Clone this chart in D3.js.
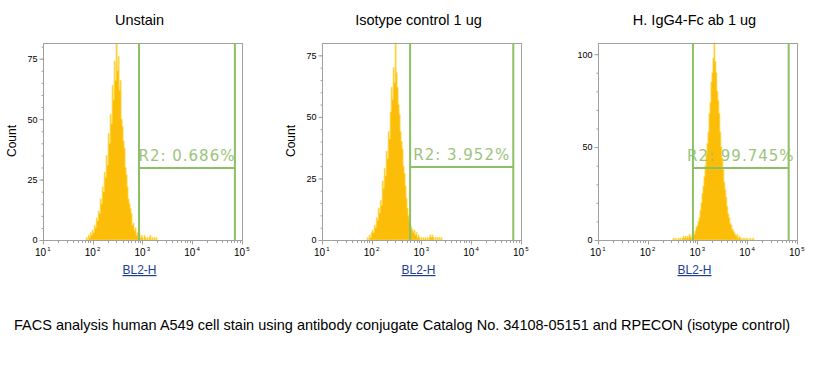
<!DOCTYPE html>
<html>
<head>
<meta charset="utf-8">
<script src="https://d3js.org/d3.v7.min.js"></script>
<style>
body { margin: 0; background: #fff; }
.frame { fill: none; stroke: #a0a0a0; stroke-width: 1; }
.tick text { font-family: "Liberation Sans", Arial, sans-serif; fill: #000; }
.gate { stroke: #8cc063; stroke-width: 2; fill: none; }
.gatelabel { font-family: "DejaVu Sans", Verdana, sans-serif; font-size: 15px; fill: #9cc47c; letter-spacing: 1px; }
.title { font-family: "Liberation Sans", Arial, sans-serif; font-size: 14.5px; }
.ylab { font-family: "Liberation Sans", Arial, sans-serif; font-size: 12px; }
.xlab { font-family: "Liberation Sans", Arial, sans-serif; font-size: 12px; fill: #1c3d96; text-decoration: underline; }
.caption { font-family: "Liberation Sans", Arial, sans-serif; font-size: 14.5px; }
</style>
</head>
<body>
<script>

// panel titles and gate results
var titles = ["Unstain", "Isotype control 1 ug", "H. IgG4-Fc ab 1 ug"];
var gateText = ["R2: 0.686%", "R2: 3.952%", "R2: 99.745%"];
var gateLo = [850, 590, 810];
var gateHi = [72000, 70000, 68000];
var gateCount = [29.8, 29.6, 38.7];
var yMax = [81.5, 80, 106];
var yTicks = [[0, 25, 50, 75], [0, 25, 50, 75], [0, 50, 100]];
var yMinor = [5, 5, 10];
var showCount = [true, true, false];
var xTicks = [10, 100, 1000, 10000, 100000];

// histogram bins: first log10 value, step in log10, then counts per bin
var histStart = [1.86, 1.90, 2.50];
var histStep = 0.02;
var counts1 = [0, 1, 0, 2, 1, 3, 2, 4, 3, 6, 5, 9, 8, 12, 11, 17, 15, 22, 20, 28,
  26, 35, 31, 44, 40, 52, 48, 64, 58, 74, 66, 81, 70, 76, 62, 66, 50, 47, 41, 38,
  30, 27, 22, 17, 15, 13, 11, 6, 7, 4, 5, 2, 3, 1, 3, 1, 2, 1, 0, 2,
  1, 0, 1, 0, 1, 2, 0, 1, 0, 1, 0, 1, 0];
var counts2 = [0, 1, 0, 2, 1, 3, 4, 3, 6, 5, 9, 8, 13, 11, 16, 14, 24, 21, 29, 26,
  36, 33, 44, 41, 52, 62, 57, 70, 64, 80, 68, 62, 55, 51, 44, 40, 37, 30, 27, 22,
  17, 13, 10, 8, 6, 5, 4, 3, 4, 2, 3, 1, 2, 1, 0, 1, 0, 1, 0, 1,
  0, 1, 0, 1, 2, 1, 2, 1, 0, 1, 0, 1, 0, 1, 0, 1, 0];
var counts3 = [0, 1, 0, 1, 0, 0, 1, 0, 1, 0, 1, 2, 1, 2, 1, 2, 1, 3, 2, 1,
  3, 4, 3, 5, 7, 8, 10, 12, 16, 20, 25, 29, 34, 40, 46, 52, 58, 68, 74, 85,
  90, 98, 106, 96, 90, 80, 75, 68, 58, 50, 44, 38, 31, 27, 23, 18, 14, 12, 9, 8,
  6, 5, 4, 3, 2, 3, 1, 2, 1, 1, 0, 1, 0, 1, 0, 1, 0, 0, 1, 0, 0, 1, 0];
var allCounts = [counts1, counts2, counts3];

var caption = "FACS analysis human A549 cell stain using antibody conjugate Catalog No. 34108-05151 and RPECON (isotype control)";

var width = 832, height = 369;
var panelX = [43, 322, 598], plotTop = 43, pw = 199, ph = 197;

var svg = d3.select("body").append("svg")
  .attr("width", width)
  .attr("height", height);

titles.forEach(function(t, p) {
  var g = svg.append("g").attr("transform", "translate(" + panelX[p] + "," + plotTop + ")");

  var x = d3.scaleLog().domain([10, 100000]).range([0, pw]);
  var y = d3.scaleLinear().domain([0, yMax[p]]).range([ph, 0]);

  // histogram
  var bins = allCounts[p].map(function(c, i) {
    return { v: Math.pow(10, histStart[p] + i * histStep), c: c };
  });
  var area = d3.area()
    .curve(d3.curveStep)
    .x(function(d) { return x(d.v); })
    .y0(ph)
    .y1(function(d) { return y(d.c); });
  g.append("path").datum(bins)
    .attr("d", area)
    .attr("fill", "#fbbd08")
    .attr("stroke", "#ffd94d")
    .attr("stroke-width", 0.8);

  // frame
  g.append("rect").attr("class", "frame")
    .attr("x", 0.5).attr("y", 0.5).attr("width", pw).attr("height", ph);

  // x axis: log minor ticks + superscript labels
  var minor = [];
  for (var e = 1; e < 5; e++) for (var m = 2; m < 10; m++) minor.push(m * Math.pow(10, e));
  var xa = g.append("g").attr("transform", "translate(0," + (ph + 0.5) + ")");
  xa.selectAll("line.mi").data(minor).enter().append("line")
    .attr("x1", function(d) { return Math.round(x(d)) + 0.5; })
    .attr("x2", function(d) { return Math.round(x(d)) + 0.5; })
    .attr("y1", 0).attr("y2", 2.5).attr("stroke", "#a0a0a0");
  xa.selectAll("line.ma").data(xTicks).enter().append("line")
    .attr("x1", function(d) { return Math.round(x(d)) + 0.5; })
    .attr("x2", function(d) { return Math.round(x(d)) + 0.5; })
    .attr("y1", 0).attr("y2", 4).attr("stroke", "#a0a0a0");
  var lab = xa.selectAll("text").data(xTicks).enter().append("text")
    .attr("x", function(d) { return x(d) - 8; })
    .attr("y", 15.5)
    .attr("font-family", "Liberation Sans, Arial, sans-serif")
    .attr("font-size", "10px");
  lab.append("tspan").text("10");
  lab.append("tspan").attr("dx", 1).attr("dy", -5).attr("font-size", "6px")
    .text(function(d) { return Math.round(Math.log10(d)); });

  // y axis
  var ya = g.append("g").attr("transform", "translate(0.5,0)")
    .call(d3.axisLeft(y).tickValues(d3.range(0, yMax[p], yMinor[p])).tickSize(2).tickFormat(""));
  ya.call(function(s) { s.select(".domain").remove(); });
  ya.selectAll("line").attr("stroke", "#a0a0a0");
  var yb = g.append("g").attr("transform", "translate(0.5,0)")
    .call(d3.axisLeft(y).tickValues(yTicks[p]).tickSize(4).tickPadding(2));
  yb.select(".domain").remove();
  yb.selectAll("line").attr("stroke", "#a0a0a0");
  yb.selectAll("text").attr("font-size", "9px");

  // gate
  var gx0 = x(gateLo[p]), gx1 = x(gateHi[p]), gy = y(gateCount[p]);
  g.append("text").attr("class", "gatelabel")
    .attr("x", (gx0 + gx1) / 2).attr("y", gy - 7)
    .attr("text-anchor", "middle")
    .text(gateText[p]);
  g.append("line").attr("class", "gate").attr("x1", gx0).attr("x2", gx0).attr("y1", 0).attr("y2", ph);
  g.append("line").attr("class", "gate").attr("x1", gx1).attr("x2", gx1).attr("y1", 0).attr("y2", ph);
  g.append("line").attr("class", "gate").attr("x1", gx0).attr("x2", gx1).attr("y1", gy).attr("y2", gy);

  // labels
  svg.append("text").attr("class", "title")
    .attr("x", panelX[p] + pw / 2 - 3).attr("y", 25)
    .attr("text-anchor", "middle").text(t);
  svg.append("text").attr("class", "xlab")
    .attr("x", panelX[p] + pw / 2 - 3).attr("y", 274)
    .attr("text-anchor", "middle").text("BL2-H");
  if (showCount[p]) {
    svg.append("text").attr("class", "ylab")
      .attr("transform", "translate(" + (panelX[p] - 27) + "," + 141 + ") rotate(-90)")
      .attr("text-anchor", "middle").text("Count");
  }
});

svg.append("text").attr("class", "caption")
  .attr("x", 14).attr("y", 330)
  .text(caption);

</script>
</body>
</html>
